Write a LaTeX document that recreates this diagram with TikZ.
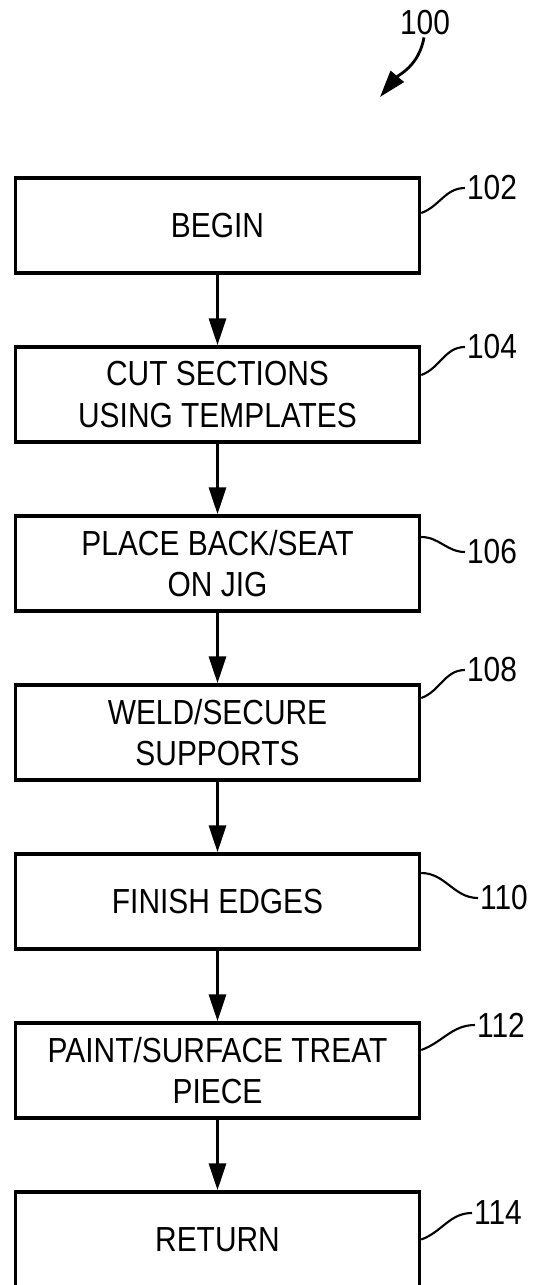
\documentclass[tikz,border=0pt]{standalone}
\usepackage{fontspec}
\setmainfont[FakeStretch=0.86]{Liberation Sans}
\usetikzlibrary{shapes,arrows.meta}

\tikzset{
  stepbox/.style={draw, line width=2pt, minimum width=8.08cm, minimum height=1.9cm,
    align=center, inner sep=0pt, font=\fontsize{19.8}{23.8}\selectfont},
  reflabel/.style={inner sep=1pt, font=\fontsize{19.8}{23.8}\selectfont},
  flow/.style={line width=1.9pt, -{Triangle[length=0.54cm,width=0.34cm]}},
  leader/.style={line width=1.2pt}
}

\begin{document}
\begin{tikzpicture}[x=0.02cm, y=-0.02cm]
\useasboundingbox (0,0) rectangle (537,1285);
% process steps
\node[stepbox] (begin) at (217.5,225.5) {BEGIN};
\node[stepbox] (cut) at (217.5,394.5) {CUT SECTIONS\\USING TEMPLATES};
\node[stepbox] (place) at (217.5,563.5) {PLACE BACK/SEAT\\ON JIG};
\node[stepbox] (weld) at (217.5,732.5) {WELD/SECURE\\SUPPORTS};
\node[stepbox] (finish) at (217.5,901.5) {FINISH EDGES};
\node[stepbox] (paint) at (217.5,1070.5) {PAINT/SURFACE TREAT\\PIECE};
\node[stepbox] (return) at (217.5,1239.5) {RETURN};
% arrows between steps
\draw[flow] (begin) -- (cut);
\draw[flow] (cut) -- (place);
\draw[flow] (place) -- (weld);
\draw[flow] (weld) -- (finish);
\draw[flow] (finish) -- (paint);
\draw[flow] (paint) -- (return);
% figure number
\node[reflabel] (l100) at (425,23) {100};
\coordinate (p100) at (380,97);
\draw[flow, line width=1.6pt] ([xshift=-0.02cm]l100.south) to[out=-100,in=50] (p100);
% reference numerals
\node[reflabel, anchor=west] (l102) at (465,188) {102};
\draw[leader] ([yshift=0.25cm]begin.east) to[out=20,in=180] (l102.west);
\node[reflabel, anchor=west] (l104) at (465,347) {104};
\draw[leader] ([yshift=0.39cm]cut.east) to[out=20,in=180] (l104.west);
\node[reflabel, anchor=west] (l106) at (465,552) {106};
\draw[leader] ([yshift=0.53cm]place.east) to[out=0,in=180] (l106.west);
\node[reflabel, anchor=west] (l108) at (465,670) {108};
\draw[leader] ([yshift=0.69cm]weld.east) to[out=20,in=180] (l108.west);
\node[reflabel, anchor=west] (l110) at (478,898) {110};
\draw[leader] ([yshift=0.57cm]finish.east) to[out=0,in=180] (l110.west);
\node[reflabel, anchor=west] (l112) at (475,1025) {112};
\draw[leader] ([yshift=0.41cm]paint.east) to[out=20,in=180] (l112.west);
\node[reflabel, anchor=west] (l114) at (472,1213) {114};
\draw[leader] (return.east) to[out=20,in=180] (l114.west);
\end{tikzpicture}
\end{document}
